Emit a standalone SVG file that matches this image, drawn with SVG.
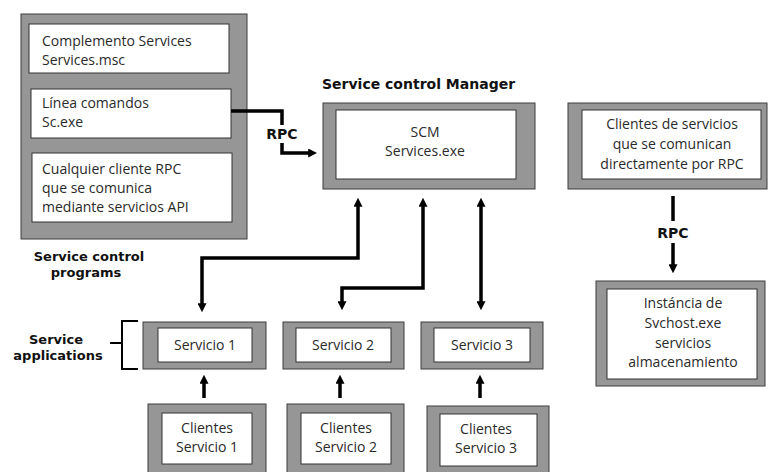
<svg xmlns="http://www.w3.org/2000/svg" width="770" height="472" viewBox="0 0 770 472">
<style>
.outer{fill:#969696;stroke:#3c3c3c;stroke-width:1}
.inner{fill:#ffffff;stroke:#333333;stroke-width:1}
.t{font-family:"Open Sans","Liberation Sans",sans-serif;font-size:14px;fill:#2a2a2a}
.c{text-anchor:middle}
.b{font-family:"DejaVu Sans","Liberation Sans",sans-serif;font-size:13px;font-weight:700;fill:#111}
.b14{font-size:14px}
.ln{fill:none;stroke:#000;stroke-width:3.5}
.ar{marker-end:url(#ah)}
.ar2{marker-start:url(#ah);marker-end:url(#ah)}
</style>
<defs>
<marker id="ah" viewBox="0 0 10 10" refX="2" refY="5" markerWidth="9" markerHeight="9" markerUnits="userSpaceOnUse" orient="auto-start-reverse">
<path d="M0,0 L10,5 L0,10 z" fill="#000"/>
</marker>
</defs>
<rect width="770" height="472" fill="#fff"/>

<g id="programs">
<rect class="outer" x="21" y="14" width="226" height="225"/>
<g id="complemento">
<rect class="inner" x="29" y="24" width="200" height="49"/>
<text class="t" x="42" y="46">Complemento Services</text>
<text class="t" x="42" y="65">Services.msc</text>
</g>
<g id="linea">
<rect class="inner" x="31" y="89" width="200" height="49"/>
<text class="t" x="42" y="108">Línea comandos</text>
<text class="t" x="42" y="127">Sc.exe</text>
</g>
<g id="cualquier">
<rect class="inner" x="32" y="153" width="200" height="69"/>
<text class="t" x="42" y="174">Cualquier cliente RPC</text>
<text class="t" x="42" y="193">que se comunica</text>
<text class="t" x="42" y="212">mediante servicios API</text>
</g>
<text class="b c" x="89" y="261">Service control</text>
<text class="b c" x="86" y="276.5">programs</text>
</g>

<g id="scm">
<text class="b b14" x="322" y="89">Service control Manager</text>
<rect class="outer" x="323" y="103" width="212" height="86"/>
<rect class="inner" x="336" y="110" width="180" height="69"/>
<text class="t c" x="425" y="137">SCM</text>
<text class="t c" x="425" y="156">Services.exe</text>
</g>

<g id="clientes-rpc">
<rect class="outer" x="568" y="103" width="199" height="86"/>
<rect class="inner" x="582" y="110" width="179" height="69"/>
<text class="t c" x="672" y="129">Clientes de servicios</text>
<text class="t c" x="672" y="149">que se comunican</text>
<text class="t c" x="672" y="169">directamente por RPC</text>
</g>

<g id="svchost">
<rect class="outer" x="596" y="281" width="169" height="105"/>
<rect class="inner" x="607" y="289" width="150" height="90"/>
<text class="t c" x="683" y="308">Instáncia de</text>
<text class="t c" x="683" y="328">Svchost.exe</text>
<text class="t c" x="683" y="348">servicios</text>
<text class="t c" x="683" y="367">almacenamiento</text>
</g>

<g id="apps-label">
<text class="b c" x="56" y="344">Service</text>
<text class="b c" x="58" y="360">applications</text>
<path d="M138 321 H122 V369 H138 M110 343 H122" fill="none" stroke="#000" stroke-width="2"/>
</g>

<g id="servicio1">
<rect class="outer" x="143" y="322" width="123" height="47"/>
<rect class="inner" x="158" y="328" width="94" height="34"/>
<text class="t c" x="205" y="350">Servicio 1</text>
</g>
<g id="servicio2">
<rect class="outer" x="283" y="322" width="121" height="47"/>
<rect class="inner" x="296" y="328" width="95" height="34"/>
<text class="t c" x="343" y="350">Servicio 2</text>
</g>
<g id="servicio3">
<rect class="outer" x="421" y="322" width="122" height="47"/>
<rect class="inner" x="434" y="328" width="96" height="34"/>
<text class="t c" x="482" y="350">Servicio 3</text>
</g>

<g id="clientes1">
<rect class="outer" x="148" y="404" width="118" height="72"/>
<rect class="inner" x="162" y="413" width="90" height="51"/>
<text class="t c" x="207" y="433">Clientes</text>
<text class="t c" x="207" y="452">Servicio 1</text>
</g>
<g id="clientes2">
<rect class="outer" x="287" y="404" width="117" height="72"/>
<rect class="inner" x="301" y="413" width="90" height="51"/>
<text class="t c" x="346" y="433">Clientes</text>
<text class="t c" x="346" y="452">Servicio 2</text>
</g>
<g id="clientes3">
<rect class="outer" x="427" y="406" width="122" height="72"/>
<rect class="inner" x="440" y="414" width="97" height="52"/>
<text class="t c" x="486" y="434">Clientes</text>
<text class="t c" x="486" y="453">Servicio 3</text>
</g>

<g id="connectors">
<path class="ln" d="M231 111 H282 V125"/>
<path class="ln ar" d="M282 143 V153 H310"/>
<text class="b b14 c" x="282" y="139">RPC</text>
<path class="ln ar2" d="M358 205 V258 H202 V305"/>
<path class="ln ar2" d="M423 205 V288 H342 V303"/>
<path class="ln ar2" d="M481 205 V303"/>
<path class="ln" d="M673 196 V221"/>
<text class="b b14 c" x="673" y="238">RPC</text>
<path class="ln ar" d="M673 243 V266"/>
<path class="ln ar" d="M204 398 V382"/>
<path class="ln ar" d="M340 398 V382"/>
<path class="ln ar" d="M480 398 V382"/>
</g>
</svg>
